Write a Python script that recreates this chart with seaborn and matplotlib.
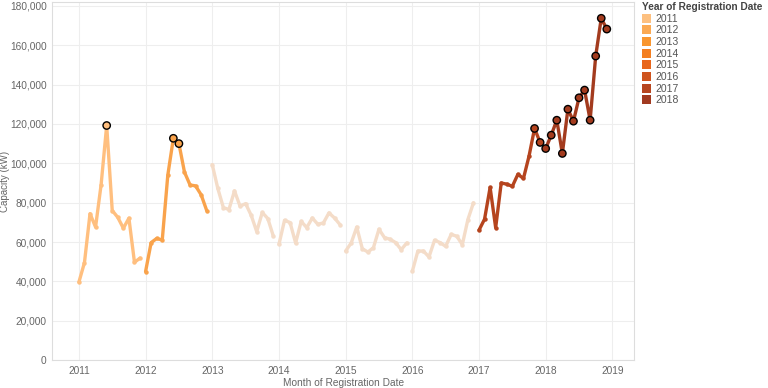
import matplotlib
matplotlib.use('Agg')
from matplotlib import pyplot as plt
from matplotlib.patches import Patch
import pandas as pd
import seaborn as sns

years = [2011, 2012, 2013, 2014, 2015, 2016, 2017, 2018]

cap_2011 = [39600, 49500, 74400, 67600, 89200, 119200, 76000, 72500, 67000, 72100, 49700, 51800]
cap_2012 = [45000, 59700, 61800, 61000, 94000, 112700, 110000, 95500, 89000, 88500, 84000, 76000]
cap_2013 = [99300, 87200, 77500, 76500, 86000, 78200, 79500, 73600, 65300, 75000, 71900, 62900]
cap_2014 = [58800, 71000, 69900, 59500, 70500, 67300, 72200, 69000, 69700, 74800, 72200, 68800]
cap_2015 = [55400, 59500, 67600, 56600, 54900, 57100, 66500, 62200, 61400, 59700, 56100, 59500]
cap_2016 = [45100, 55400, 55400, 52400, 60900, 59700, 57800, 63900, 62900, 58700, 71400, 79900]
cap_2017 = [66000, 71600, 87700, 67300, 90000, 89400, 88300, 94400, 92300, 103600, 117700, 110600]
cap_2018 = [107500, 114300, 121900, 105000, 127500, 121400, 133300, 137200, 121900, 154500, 173700, 168200]

all_caps = [cap_2011, cap_2012, cap_2013, cap_2014, cap_2015, cap_2016, cap_2017, cap_2018]

legend_colors = ['#FDC080', '#FBA952', '#F9962F', '#F47F20', '#E8661B', '#CF541E', '#B74620', '#A13A20']
line_colors = {2011: '#FFBF7F', 2012: '#F9A34C', 2013: '#F4DCC8', 2014: '#F4DCC8',
               2015: '#F4DCC8', 2016: '#F4DCC8', 2017: '#B5441E', 2018: '#A33B1E'}

rows = []
for y, caps in zip(years, all_caps):
    for m, c in enumerate(caps):
        rows.append({'year': y, 'date': y + m / 12, 'capacity': c})
df = pd.DataFrame(rows)
df['highlight'] = df['capacity'] > 104500

sns.set_style('white')
plt.rcParams['font.family'] = ['Liberation Sans', 'DejaVu Sans']

fig = plt.figure(figsize=(7.68, 3.88), dpi=100)
ax = fig.add_axes([0.068, 0.072, 0.758, 0.923])

sns.lineplot(data=df, x='date', y='capacity', hue='year', palette=line_colors,
             units='year', estimator=None, marker='o', markersize=3.2,
             markeredgewidth=0, linewidth=2.4, legend=False, ax=ax)
sns.scatterplot(data=df[df['highlight']], x='date', y='capacity', hue='year',
                palette=line_colors, edgecolor='black', linewidth=1.0, s=28,
                legend=False, zorder=5, ax=ax)

ax.set_xlim(2010.6, 2019.33)
ax.set_ylim(0, 182000)
ax.set_xticks(range(2011, 2020))
ax.set_xticklabels([str(x) for x in range(2011, 2020)])
ax.set_yticks(range(0, 180001, 20000))
ax.set_yticklabels(['0'] + [f'{v:,}' for v in range(20000, 180001, 20000)])
ax.tick_params(axis='both', labelsize=7.3, colors='#666666', length=0, pad=4)
ax.grid(True, color='#EEEEEE', linewidth=0.8)
for s in ax.spines.values():
    s.set_color('#DDDDDD')
    s.set_linewidth(0.8)
ax.set_xlabel('Month of Registration Date', fontsize=7.3, color='#666666', labelpad=2)
ax.set_ylabel('Capacity (kW)', fontsize=7, color='#666666', labelpad=1)
ax.yaxis.set_label_coords(-0.073, 0.5)

handles = [Patch(facecolor=c, edgecolor='none') for c in legend_colors]
leg = fig.legend(handles, [str(y) for y in years], loc='upper left',
                 bbox_to_anchor=(0.830, 1.005), frameon=False, fontsize=7.5,
                 title='Year of Registration Date', handlelength=0.9,
                 handleheight=0.95, handletextpad=0.4, labelspacing=0.15,
                 borderaxespad=0.2, borderpad=0.2)
leg.get_title().set_fontweight('bold')
leg.get_title().set_fontsize(7.3)
leg.get_title().set_color('#444444')
leg._legend_box.align = 'left'
for t in leg.get_texts():
    t.set_color('#555555')

fig.savefig('out.png', dpi=100)
